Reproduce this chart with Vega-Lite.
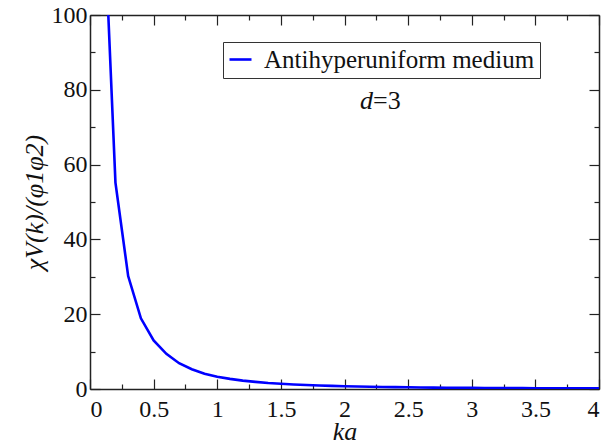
{
  "$schema": "https://vega.github.io/schema/vega-lite/v6.json",
  "width": 509,
  "height": 374,
  "autosize": {"type": "none"},
  "padding": {"left": 90, "top": 15, "right": 5, "bottom": 55},
  "background": "white",
  "config": {
    "view": {"stroke": null},
    "font": "Liberation Serif",
    "axis": {
      "domainColor": "#222222",
      "domainWidth": 1.5,
      "tickColor": "#222222",
      "tickWidth": 1.2,
      "grid": false,
      "labelFont": "Liberation Serif",
      "labelFontSize": 24,
      "labelColor": "#111111",
      "titleFont": "Liberation Serif",
      "titleColor": "#111111",
      "titleFontWeight": "normal"
    }
  },
  "datasets": {
    "curve": [
      {"ka": 0.1, "chi": 135, "series": "Antihyperuniform medium"},
      {"ka": 0.2, "chi": 55.2, "series": "Antihyperuniform medium"},
      {"ka": 0.3, "chi": 30.2, "series": "Antihyperuniform medium"},
      {"ka": 0.4, "chi": 18.9, "series": "Antihyperuniform medium"},
      {"ka": 0.5, "chi": 13.0, "series": "Antihyperuniform medium"},
      {"ka": 0.6, "chi": 9.4, "series": "Antihyperuniform medium"},
      {"ka": 0.7, "chi": 6.9, "series": "Antihyperuniform medium"},
      {"ka": 0.8, "chi": 5.3, "series": "Antihyperuniform medium"},
      {"ka": 0.9, "chi": 4.1, "series": "Antihyperuniform medium"},
      {"ka": 1.0, "chi": 3.3, "series": "Antihyperuniform medium"},
      {"ka": 1.1, "chi": 2.7, "series": "Antihyperuniform medium"},
      {"ka": 1.2, "chi": 2.25, "series": "Antihyperuniform medium"},
      {"ka": 1.3, "chi": 1.9, "series": "Antihyperuniform medium"},
      {"ka": 1.4, "chi": 1.6, "series": "Antihyperuniform medium"},
      {"ka": 1.5, "chi": 1.4, "series": "Antihyperuniform medium"},
      {"ka": 1.6, "chi": 1.2, "series": "Antihyperuniform medium"},
      {"ka": 1.7, "chi": 1.05, "series": "Antihyperuniform medium"},
      {"ka": 1.8, "chi": 0.93, "series": "Antihyperuniform medium"},
      {"ka": 1.9, "chi": 0.83, "series": "Antihyperuniform medium"},
      {"ka": 2.0, "chi": 0.74, "series": "Antihyperuniform medium"},
      {"ka": 2.1, "chi": 0.66, "series": "Antihyperuniform medium"},
      {"ka": 2.2, "chi": 0.6, "series": "Antihyperuniform medium"},
      {"ka": 2.3, "chi": 0.54, "series": "Antihyperuniform medium"},
      {"ka": 2.4, "chi": 0.49, "series": "Antihyperuniform medium"},
      {"ka": 2.5, "chi": 0.45, "series": "Antihyperuniform medium"},
      {"ka": 2.6, "chi": 0.41, "series": "Antihyperuniform medium"},
      {"ka": 2.7, "chi": 0.38, "series": "Antihyperuniform medium"},
      {"ka": 2.8, "chi": 0.35, "series": "Antihyperuniform medium"},
      {"ka": 2.9, "chi": 0.32, "series": "Antihyperuniform medium"},
      {"ka": 3.0, "chi": 0.3, "series": "Antihyperuniform medium"},
      {"ka": 3.1, "chi": 0.28, "series": "Antihyperuniform medium"},
      {"ka": 3.2, "chi": 0.26, "series": "Antihyperuniform medium"},
      {"ka": 3.3, "chi": 0.24, "series": "Antihyperuniform medium"},
      {"ka": 3.4, "chi": 0.23, "series": "Antihyperuniform medium"},
      {"ka": 3.5, "chi": 0.21, "series": "Antihyperuniform medium"},
      {"ka": 3.6, "chi": 0.2, "series": "Antihyperuniform medium"},
      {"ka": 3.7, "chi": 0.19, "series": "Antihyperuniform medium"},
      {"ka": 3.8, "chi": 0.18, "series": "Antihyperuniform medium"},
      {"ka": 3.9, "chi": 0.17, "series": "Antihyperuniform medium"},
      {"ka": 4.0, "chi": 0.16, "series": "Antihyperuniform medium"}
    ],
    "note": [{"part1": "d", "part2": "=3", "ka": 2.224, "chi": 74.9}]
  },
  "layer": [
    {
      "data": {"name": "curve"},
      "mark": {"type": "line", "strokeWidth": 2.6, "clip": true},
      "encoding": {
        "x": {
          "field": "ka", "type": "quantitative",
          "scale": {"domain": [0, 4], "nice": false, "zero": false},
          "axis": {
            "orient": "bottom",
            "values": [0, 0.25, 0.5, 0.75, 1, 1.25, 1.5, 1.75, 2, 2.25, 2.5, 2.75, 3, 3.25, 3.5, 3.75, 4],
            "labelExpr": "datum.value % 0.5 === 0 ? format(datum.value, '~g') : ''",
            "tickSize": {"condition": {"test": "datum.value % 0.5 !== 0", "value": -5}, "value": -10},
            "labelPadding": 18,
            "title": "ka",
            "titleFontSize": 26,
            "titleFontStyle": "italic",
            "titlePadding": -3
          }
        },
        "y": {
          "field": "chi", "type": "quantitative",
          "scale": {"domain": [0, 100], "nice": false, "zero": false},
          "axis": {
            "orient": "left",
            "values": [0, 10, 20, 30, 40, 50, 60, 70, 80, 90, 100],
            "labelExpr": "datum.value % 20 === 0 ? format(datum.value, 'd') : ''",
            "tickSize": {"condition": {"test": "datum.value % 20 !== 0", "value": -5}, "value": -10},
            "labelPadding": 13,
            "title": "χV(k)/(φ1φ2)",
            "titleFontSize": 26,
            "titleFontStyle": "italic",
            "titlePadding": 4
          }
        },
        "color": {
          "field": "series", "type": "nominal",
          "scale": {"domain": ["Antihyperuniform medium"], "range": ["#0000ff"]},
          "legend": {
            "orient": "none",
            "legendX": 133,
            "legendY": 27,
            "title": null,
            "strokeColor": "#333333",
            "fillColor": "white",
            "padding": 5,
            "symbolType": "stroke",
            "symbolSize": 484,
            "symbolStrokeWidth": 2.6,
            "labelOffset": 11,
            "labelFont": "Liberation Serif",
            "labelFontSize": 25,
            "labelColor": "#111111",
            "labelLimit": 400
          }
        }
      }
    },
    {
      "data": {"name": "curve"},
      "mark": {"type": "point", "opacity": 0},
      "encoding": {
        "x": {
          "field": "ka", "type": "quantitative",
          "scale": {"domain": [0, 4], "nice": false, "zero": false},
          "axis": {
            "orient": "top",
            "values": [0, 0.25, 0.5, 0.75, 1, 1.25, 1.5, 1.75, 2, 2.25, 2.5, 2.75, 3, 3.25, 3.5, 3.75, 4],
            "labels": false,
            "tickSize": {"condition": {"test": "datum.value % 0.5 !== 0", "value": -5}, "value": -10},
            "title": null
          }
        },
        "y": {
          "field": "chi", "type": "quantitative",
          "scale": {"domain": [0, 100], "nice": false, "zero": false},
          "axis": {
            "orient": "right",
            "values": [0, 10, 20, 30, 40, 50, 60, 70, 80, 90, 100],
            "labels": false,
            "tickSize": {"condition": {"test": "datum.value % 20 !== 0", "value": -5}, "value": -10},
            "title": null
          }
        }
      }
    },
    {
      "data": {"name": "note"},
      "mark": {"type": "text", "align": "right", "baseline": "alphabetic", "fontSize": 26, "fontStyle": "italic", "font": "Liberation Serif", "color": "#111111"},
      "encoding": {
        "x": {"field": "ka", "type": "quantitative", "scale": {"domain": [0, 4], "nice": false, "zero": false}, "axis": null},
        "y": {"field": "chi", "type": "quantitative", "scale": {"domain": [0, 100], "nice": false, "zero": false}, "axis": null},
        "text": {"field": "part1"}
      }
    },
    {
      "data": {"name": "note"},
      "mark": {"type": "text", "align": "left", "baseline": "alphabetic", "fontSize": 26, "font": "Liberation Serif", "color": "#111111"},
      "encoding": {
        "x": {"field": "ka", "type": "quantitative", "scale": {"domain": [0, 4], "nice": false, "zero": false}, "axis": null},
        "y": {"field": "chi", "type": "quantitative", "scale": {"domain": [0, 100], "nice": false, "zero": false}, "axis": null},
        "text": {"field": "part2"}
      }
    }
  ],
  "resolve": {"scale": {"x": "independent", "y": "independent"}, "axis": {"x": "independent", "y": "independent"}}
}
